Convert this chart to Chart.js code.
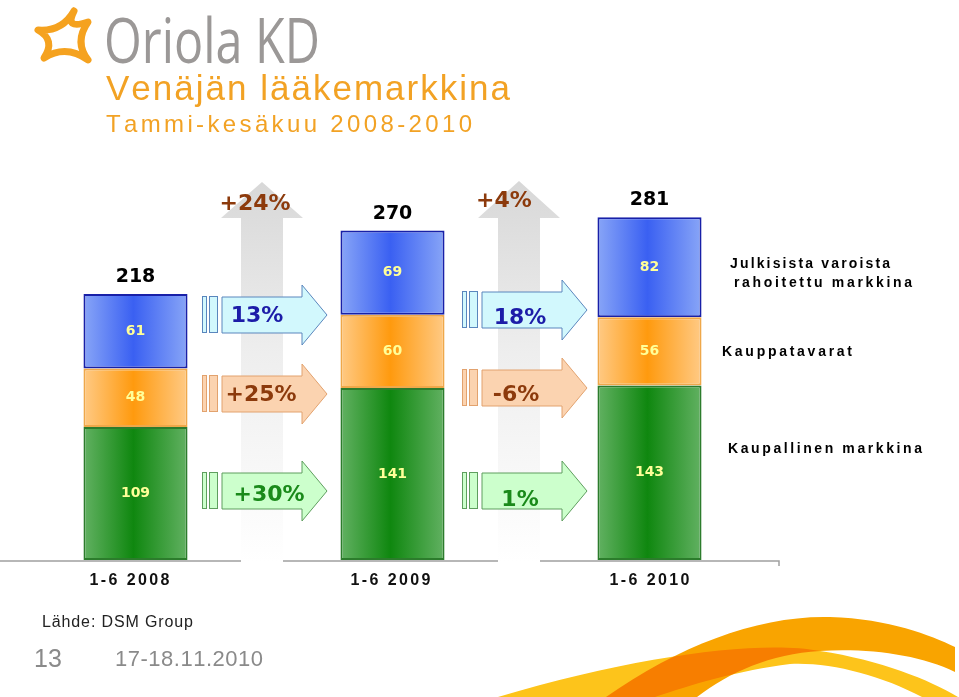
<!DOCTYPE html>
<html lang="fi">
<head>
<meta charset="UTF-8">
<title>Venäjän lääkemarkkina</title>
<script src="https://cdn.jsdelivr.net/npm/chart.js"></script>
<style>
  html, body { margin: 0; padding: 0; background: #fff; }
  #chart { display: block; }
</style>
</head>
<body>
<canvas id="chart" width="959" height="697"></canvas>
<script>
// data (mrd RUB)
const periods = ['1-6 2008', '1-6 2009', '1-6 2010'];
const kaupallinen = [109, 141, 143];     // green, bottom
const kauppatavarat = [48, 60, 56];      // orange, middle
const julkinen = [61, 69, 82];           // blue, top
const totalGrowth = ['+24%', '+4%'];
const julkinenGrowth = ['13%', '18%'];
const kauppaGrowth = ['+25%', '-6%'];
const kaupallinenGrowth = ['+30%', '1%'];

const ctx = document.getElementById('chart');

function gradFill(colors) {
  return function (c) {
    const chart = c.chart;
    if (!chart.chartArea) return colors[1];
    const x = chart.scales.x.getPixelForValue(c.dataIndex);
    const g = chart.ctx.createLinearGradient(x - 52, 0, x + 52, 0);
    g.addColorStop(0, colors[0]);
    g.addColorStop(0.48, colors[1]);
    g.addColorStop(1, colors[2]);
    return g;
  };
}

// draw text with letter spacing, char by char
function spaced(c, text, x, y, sp, align) {
  const chars = Array.from(text);
  const ws = chars.map(ch => c.measureText(ch).width);
  const total = ws.reduce((a, b) => a + b, 0) + sp * (chars.length - 1);
  let cx = align === 'center' ? x - total / 2 : x;
  c.textAlign = 'left';
  chars.forEach((ch, i) => { c.fillText(ch, cx, y); cx += ws[i] + sp; });
}

function fitSpaced(c, text, x, y, width, align) {
  const chars = Array.from(text);
  const sum = chars.reduce((a, ch) => a + c.measureText(ch).width, 0);
  spaced(c, text, x, y, (width - sum) / (chars.length - 1), align || 'left');
}

function hArrow(c, cx, cy, fill, stroke) {
  c.save();
  c.fillStyle = fill;
  c.strokeStyle = stroke;
  c.lineWidth = 1;
  c.fillRect(cx - 59, cy - 18, 4, 36);
  c.strokeRect(cx - 59.5, cy - 18.5, 4, 36);
  c.fillRect(cx - 52, cy - 18, 8, 36);
  c.strokeRect(cx - 52.5, cy - 18.5, 8, 36);
  c.beginPath();
  c.moveTo(cx - 40, cy - 18);
  c.lineTo(cx + 40, cy - 18);
  c.lineTo(cx + 40, cy - 30);
  c.lineTo(cx + 65, cy);
  c.lineTo(cx + 40, cy + 30);
  c.lineTo(cx + 40, cy + 18);
  c.lineTo(cx - 40, cy + 18);
  c.closePath();
  c.fill();
  c.stroke();
  c.restore();
}

const slidePlugin = {
  id: 'slide',
  beforeDatasetsDraw(chart) {
    const c = chart.ctx;
    const x = chart.scales.x, y = chart.scales.y;
    const base = y.getPixelForValue(0);

    // baseline
    c.save();
    c.strokeStyle = '#a0a0a0';
    c.lineWidth = 1.5;
    c.beginPath();
    c.moveTo(0, base + 1);
    c.lineTo(779, base + 1);
    c.lineTo(779, base + 6);
    c.stroke();

    // big grey total arrows + horizontal segment arrows
    const rows = [[315, 394, 491], [310, 388, 491]];
    const txtOff = [[[-5, 1], [-1, 1], [7, 4]], [[-2, 8], [-6, 7], [-2, 9]]];
    for (let i = 0; i < periods.length - 1; i++) {
      const gx = (x.getPixelForValue(i) + x.getPixelForValue(i + 1)) / 2 - 2;
      const g = c.createLinearGradient(0, 183, 0, base + 2);
      g.addColorStop(0, '#d8d8d8');
      g.addColorStop(0.45, '#eeeeee');
      g.addColorStop(1, '#ffffff');
      c.fillStyle = g;
      c.beginPath();
      c.moveTo(gx, 182 + i * -1);
      c.lineTo(gx + 41, 218);
      c.lineTo(gx + 21, 218);
      c.lineTo(gx + 21, base + 3);
      c.lineTo(gx - 21, base + 3);
      c.lineTo(gx - 21, 218);
      c.lineTo(gx - 41, 218);
      c.closePath();
      c.fill();

      c.font = 'bold 22px "DejaVu Sans"';
      c.textAlign = 'center';
      c.textBaseline = 'middle';
      c.fillStyle = '#8c3a0c';
      c.fillText(totalGrowth[i], gx - 7 - i * 8, 204 - i * 3);

      const ax = gx + i * 3;
      const defs = [
        [julkinenGrowth[i], '#d2f8fd', '#5a86bd', '#1c1ca8'],
        [kauppaGrowth[i], '#fbd3b0', '#e2a26e', '#8c3a0c'],
        [kaupallinenGrowth[i], '#ccffcc', '#5e9e5e', '#1a8a1a']
      ];
      defs.forEach((d, r) => {
        const cy = rows[i][r];
        hArrow(c, ax, cy, d[1], d[2]);
        c.font = 'bold 22px "DejaVu Sans"';
        c.fillStyle = d[3];
        c.textAlign = 'center';
        c.fillText(d[0], ax + txtOff[i][r][0], cy + txtOff[i][r][1]);
      });
    }
    c.restore();
  },
  afterDatasetsDraw(chart) {
    const c = chart.ctx;
    const x = chart.scales.x, y = chart.scales.y;
    c.save();
    c.textBaseline = 'middle';
    c.textAlign = 'center';

    // segment values
    c.font = 'bold 14px "DejaVu Sans"';
    c.fillStyle = '#ffff99';
    chart.data.datasets.forEach((ds, di) => {
      chart.getDatasetMeta(di).data.forEach((bar, i) => {
        c.fillText(String(ds.data[i]), bar.x, (bar.y + bar.base) / 2);
      });
    });

    // totals
    c.font = 'bold 19px "DejaVu Sans"';
    c.fillStyle = '#000';
    periods.forEach((p, i) => {
      const t = kaupallinen[i] + kauppatavarat[i] + julkinen[i];
      c.fillText(String(t), x.getPixelForValue(i), y.getPixelForValue(t) - 17);
    });

    // period labels
    const shift = [-6, -2, 0];
    c.font = 'bold 16px "Liberation Sans"';
    c.fillStyle = '#111';
    periods.forEach((p, i) => fitSpaced(c, p, x.getPixelForValue(i) + shift[i], 581, 80, 'center'));

    // series names on the right
    c.font = 'bold 14px "Liberation Sans"';
    c.fillStyle = '#000';
    fitSpaced(c, 'Julkisista varoista', 730, 264, 160);
    fitSpaced(c, 'rahoitettu markkina', 734, 283, 178);
    fitSpaced(c, 'Kauppatavarat', 722, 352, 130);
    fitSpaced(c, 'Kaupallinen markkina', 728, 449, 194);
    c.restore();
  },
  afterDraw(chart) {
    const c = chart.ctx;
    c.save();

    // logo mark
    c.strokeStyle = '#f5a21f';
    c.lineWidth = 7;
    c.lineJoin = 'round';
    c.lineCap = 'round';
    c.beginPath();
    c.moveTo(74, 11);
    c.quadraticCurveTo(64, 30, 88, 22);
    c.quadraticCurveTo(74, 42, 88, 60);
    c.quadraticCurveTo(66, 44, 44, 58);
    c.quadraticCurveTo(56, 40, 38, 30);
    c.quadraticCurveTo(62, 32, 74, 11);
    c.stroke();

    // logo type
    c.fillStyle = '#9b9897';
    c.font = '62px "Open Sans"';
    c.textBaseline = 'alphabetic';
    c.textAlign = 'left';
    const w = c.measureText('Oriola KD').width;
    c.save();
    c.translate(104, 63);
    c.scale(216 / w, 1);
    c.fillText('Oriola KD', 0, 0);
    c.restore();

    // titles
    c.fillStyle = '#f2a224';
    c.font = '35px "Liberation Sans"';
    fitSpaced(c, 'Venäjän lääkemarkkina', 106, 100, 404);
    c.font = '24px "Liberation Sans"';
    fitSpaced(c, 'Tammi-kesäkuu 2008-2010', 106, 132, 366);

    // footer
    c.fillStyle = '#222';
    c.font = '16px "Liberation Sans"';
    fitSpaced(c, 'Lähde: DSM Group', 42, 627, 151);
    c.fillStyle = '#8a8a8a';
    c.font = '25px "Liberation Sans"';
    c.fillText('13', 34, 667);
    c.font = '22px "Liberation Sans"';
    fitSpaced(c, '17-18.11.2010', 115, 666, 148);

    // swoosh
    c.fillStyle = '#fdc41b';
    c.beginPath();
    c.moveTo(498, 697);
    c.bezierCurveTo(640, 655, 760, 640, 820, 651);
    c.bezierCurveTo(880, 660, 930, 680, 958, 697);
    c.lineTo(922, 697);
    c.bezierCurveTo(880, 675, 830, 662, 790, 664);
    c.bezierCurveTo(740, 670, 690, 685, 655, 697);
    c.closePath();
    c.fill();
    c.globalCompositeOperation = 'multiply';
    c.fillStyle = '#f9a400';
    c.beginPath();
    c.moveTo(606, 697);
    c.bezierCurveTo(680, 645, 760, 615, 830, 617);
    c.bezierCurveTo(890, 619, 930, 635, 955, 647);
    c.lineTo(955, 672);
    c.bezierCurveTo(920, 655, 870, 648, 820, 651);
    c.bezierCurveTo(770, 654, 730, 672, 697, 697);
    c.closePath();
    c.fill();
    c.restore();
  }
};

new Chart(ctx, {
  type: 'bar',
  data: {
    labels: periods,
    datasets: [
      {
        label: 'Kaupallinen markkina',
        data: kaupallinen,
        backgroundColor: gradFill(['#62b162', '#0f870f', '#62b162']),
        borderColor: '#2c7c2c'
      },
      {
        label: 'Kauppatavarat',
        data: kauppatavarat,
        backgroundColor: gradFill(['#ffca85', '#ff9a0e', '#ffca85']),
        borderColor: '#efa84a'
      },
      {
        label: 'Julkisista varoista rahoitettu markkina',
        data: julkinen,
        backgroundColor: gradFill(['#88a5f7', '#3a60f2', '#88a5f7']),
        borderColor: '#1820a8'
      }
    ]
  },
  options: {
    responsive: false,
    animation: false,
    devicePixelRatio: 1,
    layout: { padding: { left: 7, right: 181, top: 194, bottom: 137 } },
    datasets: {
      bar: { borderWidth: 2, borderSkipped: false, barPercentage: 0.405, categoryPercentage: 1 }
    },
    scales: {
      x: { stacked: true, display: false },
      y: { stacked: true, display: false, min: 0, max: 300 }
    },
    plugins: {
      legend: { display: false },
      tooltip: { enabled: false }
    }
  },
  plugins: [slidePlugin]
});
</script>
</body>
</html>
